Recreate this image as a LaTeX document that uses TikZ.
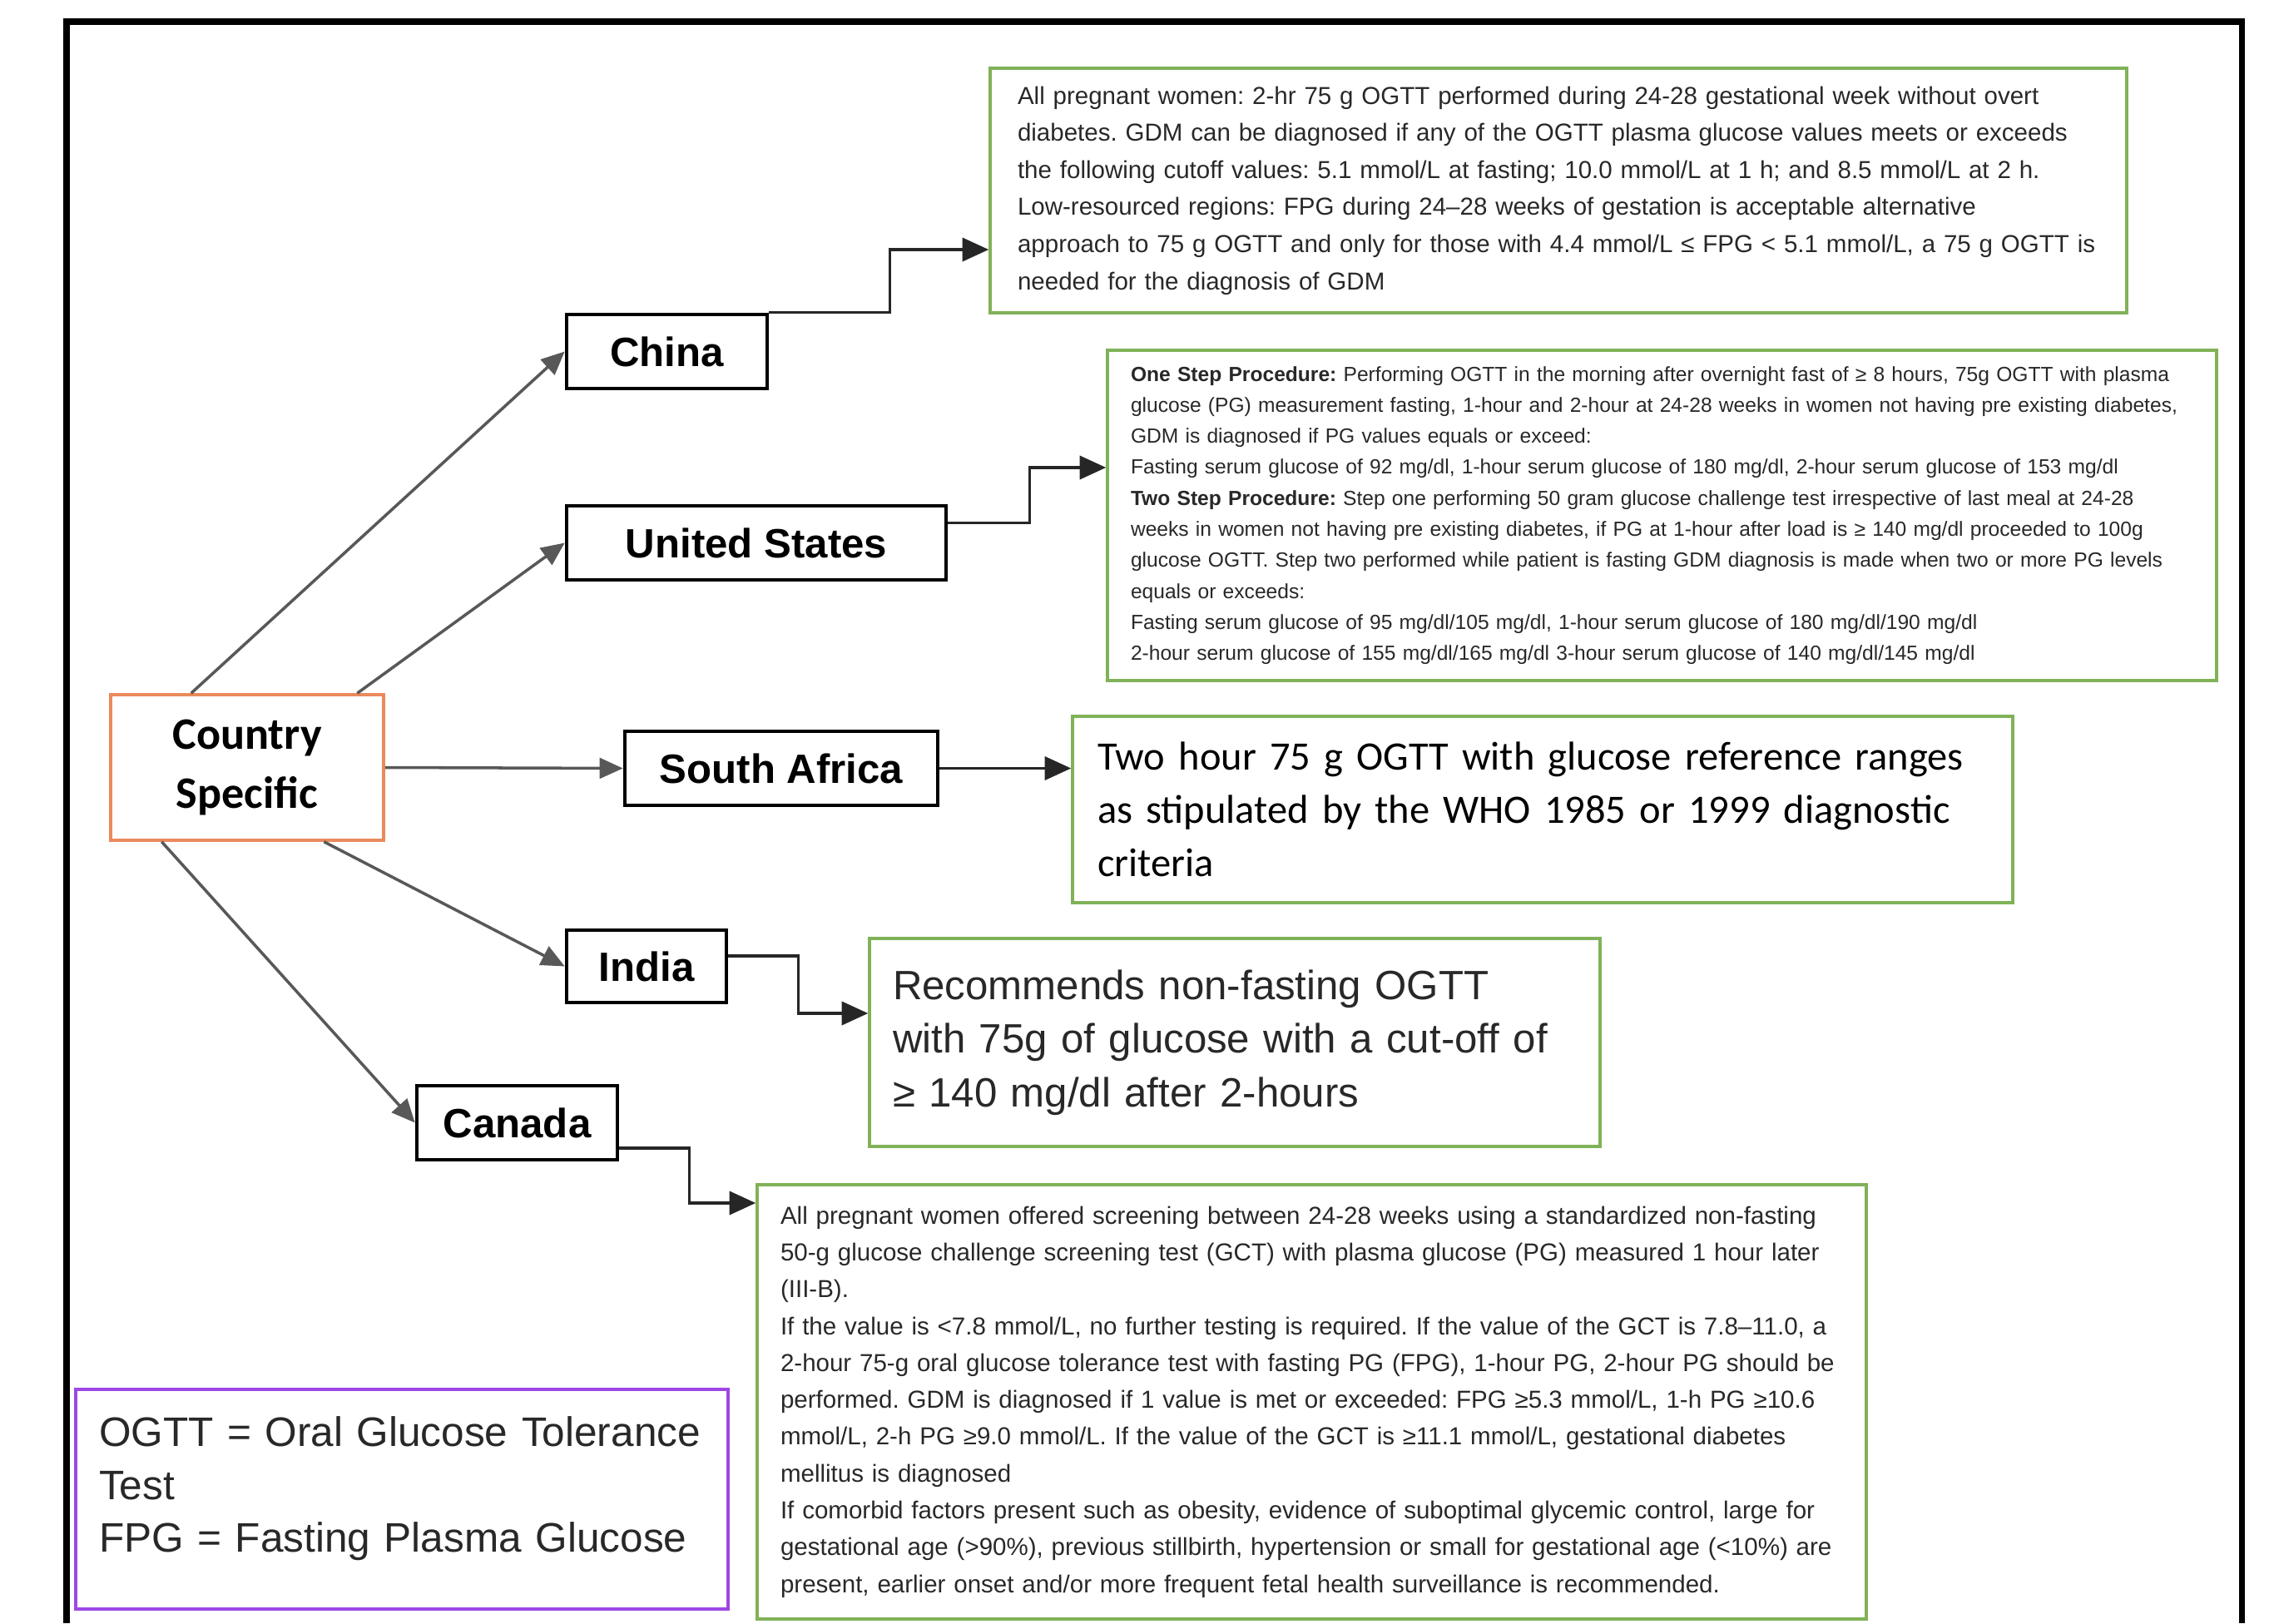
\documentclass[tikz,border=0pt]{standalone}
\usepackage{fontspec}
\setmainfont{Liberation Sans}
\newfontfamily\calibri{Carlito}
\usepackage{tikz}
\usetikzlibrary{arrows.meta, positioning}
\frenchspacing
\definecolor{myorange}{RGB}{234,138,92}
\definecolor{mygreen}{RGB}{128,178,88}
\definecolor{mypurple}{RGB}{158,72,228}
\definecolor{mygray}{RGB}{88,88,88}
\definecolor{mytext}{RGB}{40,40,40}
\tikzset{
  rootbox/.style={rectangle, draw=myorange, line width=1pt, align=center,
    minimum width=3.28cm, minimum height=1.75cm, inner sep=0pt,
    font=\calibri\fontsize{15.4}{20.2}\selectfont\bfseries},
  countrybox/.style={rectangle, draw=black, line width=1.3pt, inner sep=0pt,
    minimum height=0.89cm, font=\fontsize{14}{17}\selectfont\bfseries},
  infobox/.style={rectangle, draw=mygreen, line width=1pt, align=left,
    inner xsep=0.28cm, inner ysep=0pt, text=mytext},
  keybox/.style={rectangle, draw=mypurple, line width=1.2pt, align=left,
    inner xsep=0.28cm, inner ysep=0pt, text=mytext},
  branch/.style={-{Triangle[length=8pt,width=7pt]}, line width=1pt, color=mygray},
  lead/.style={-{Triangle[length=9pt,width=8pt]}, line width=1pt, color=black!85}
}
\begin{document}
\begin{tikzpicture}
  \useasboundingbox (0,0) rectangle (27.39,-19.51);
  \draw[line width=2pt] (0.80,-19.51) -- (0.80,-0.26) -- (26.94,-0.26) -- (26.94,-19.51);

  % Nodes
  \node[rootbox] (root) at (2.97,-9.225) {Country\\Specific};
  \node[countrybox, minimum width=2.41cm] (china) at (8.015,-4.225) {China};
  \node[countrybox, minimum width=4.56cm] (usa) at (9.09,-6.525) {United States};
  \node[countrybox, minimum width=3.76cm] (safrica) at (9.39,-9.235) {South Africa};
  \node[countrybox, minimum width=1.92cm, minimum height=0.87cm] (india) at (7.77,-11.615) {India};
  \node[countrybox, minimum width=2.41cm] (canada) at (6.215,-13.495) {Canada};

  \node[infobox, inner xsep=0.33cm, text width=13.0cm, minimum height=2.94cm,
    font=\fontsize{8.4}{12.7}\selectfont] (chinatxt) at (18.73,-2.29)
    {All pregnant women: 2-hr 75 g OGTT performed during 24-28 gestational week without overt\\
     diabetes. GDM can be diagnosed if any of the OGTT plasma glucose values meets or exceeds\\
     the following cutoff values: 5.1 mmol/L at fasting; 10.0 mmol/L at 1 h; and 8.5 mmol/L at 2 h.\\
     Low-resourced regions: FPG during 24–28 weeks of gestation is acceptable alternative\\
     approach to 75 g OGTT and only for those with 4.4 mmol/L ≤ FPG < 5.1 mmol/L, a 75 g OGTT is\\
     needed for the diagnosis of GDM};
  \node[infobox, text width=12.77cm, minimum height=3.97cm,
    font=\fontsize{7.0}{10.6}\selectfont] (usatxt) at (19.975,-6.195)
    {\textbf{One Step Procedure:} Performing OGTT in the morning after overnight fast of ≥ 8 hours, 75g OGTT with plasma\\
     glucose (PG) measurement fasting, 1-hour and 2-hour at 24-28 weeks in women not having pre existing diabetes,\\
     GDM is diagnosed if PG values equals or exceed:\\
     Fasting serum glucose of 92 mg/dl, 1-hour serum glucose of 180 mg/dl, 2-hour serum glucose of 153 mg/dl\\
     \textbf{Two Step Procedure:} Step one performing 50 gram glucose challenge test irrespective of last meal at 24-28\\
     weeks in women not having pre existing diabetes, if PG at 1-hour after load is ≥ 140 mg/dl proceeded to 100g\\
     glucose OGTT. Step two performed while patient is fasting GDM diagnosis is made when two or more PG levels\\
     equals or exceeds:\\
     Fasting serum glucose of 95 mg/dl/105 mg/dl, 1-hour serum glucose of 180 mg/dl/190 mg/dl\\
     2-hour serum glucose of 155 mg/dl/165 mg/dl 3-hour serum glucose of 140 mg/dl/145 mg/dl};
  \node[infobox, inner xsep=0.30cm, text width=10.70cm, minimum height=2.24cm,
    font=\calibri\fontsize{13.8}{18.3}\selectfont, text=black] (safricatxt) at (18.54,-9.73)
    {Two hour 75 g OGTT with glucose reference ranges\\
     as stipulated by the WHO 1985 or 1999 diagnostic\\
     criteria};
  \node[infobox, text width=8.22cm, minimum height=2.50cm,
    font=\fontsize{14}{18.3}\selectfont] (indiatxt) at (14.84,-12.53)
    {Recommends non-fasting OGTT\\
     with 75g of glucose with a cut-off of\\
     ≥ 140 mg/dl after 2-hours};
  \node[infobox, text width=12.77cm, minimum height=5.22cm,
    font=\fontsize{8.4}{12.6}\selectfont] (canadatxt) at (15.765,-16.85)
    {All pregnant women offered screening between 24-28 weeks using a standardized non-fasting\\
     50-g glucose challenge screening test (GCT) with plasma glucose (PG) measured 1 hour later\\
     (III-B).\\
     If the value is <7.8 mmol/L, no further testing is required. If the value of the GCT is 7.8–11.0, a\\
     2-hour 75-g oral glucose tolerance test with fasting PG (FPG), 1-hour PG, 2-hour PG should be\\
     performed. GDM is diagnosed if 1 value is met or exceeded: FPG ≥5.3 mmol/L, 1-h PG ≥10.6\\
     mmol/L, 2-h PG ≥9.0 mmol/L. If the value of the GCT is ≥11.1 mmol/L, gestational diabetes\\
     mellitus is diagnosed\\
     If comorbid factors present such as obesity, evidence of suboptimal glycemic control, large for\\
     gestational age (>90\%), previous stillbirth, hypertension or small for gestational age (<10\%) are\\
     present, earlier onset and/or more frequent fetal health surveillance is recommended.};

  \node[keybox, text width=7.28cm, minimum height=2.64cm,
    font=\fontsize{14.1}{18.1}\selectfont] (key) at (4.83,-18.02)
    {OGTT = Oral Glucose Tolerance\\
     Test\\
     FPG = Fasting Plasma Glucose\\[-8pt]\mbox{}};

  % Arrows
  \draw[branch] (root.127) -- (china.west);
  \draw[branch] (root.34) -- (usa.west);
  \draw[branch] (root.east) -- (safrica.west);
  \draw[branch] (root.316) -- (india.west);
  \draw[branch] (root.221) -- (canada.west);

  \draw[lead] (china.north east) -- ++(1.45,0) |- ([yshift=-0.71cm]chinatxt.west);
  \draw[lead] ([yshift=0.24cm]usa.east) -- ++(0.98,0) |- ([yshift=0.575cm]usatxt.west);
  \draw[lead] (safrica.east) -- (safrica.east -| safricatxt.west);
  \draw[lead] ([yshift=0.125cm]india.east) -- ++(0.84,0) |- ([yshift=0.35cm]indiatxt.west);
  \draw[lead] ([yshift=-0.305cm]canada.east) -- ++(0.84,0) |- ([yshift=2.39cm]canadatxt.west);

\end{tikzpicture}
\end{document}
